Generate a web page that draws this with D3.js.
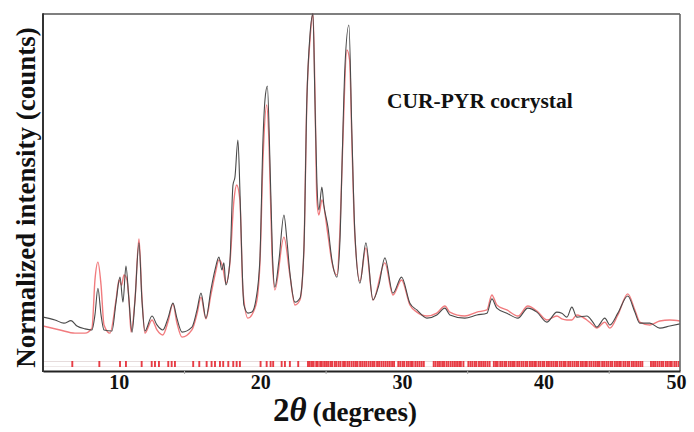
<!DOCTYPE html>
<html>
<head>
<meta charset="utf-8">
<script src="https://cdn.jsdelivr.net/npm/d3@7"></script>
<style>
  html, body { margin: 0; padding: 0; background: #fff; }
  svg { display: block; }
</style>
</head>
<body>
<svg id="chart" width="694" height="432"></svg>
<script>
// ---- data (2theta in degrees, normalized intensity 0..100) ----
const experimental = [
  [5.0,15.1],[5.85,14.3],[6.48,13.4],[6.98,14.1],[7.40,12.6],[7.97,11.8],[8.46,11.5],[8.67,15.7],
  [8.88,23.2],[9.10,15.7],[9.31,11.5],[9.87,11.2],[10.16,19.3],[10.44,26.3],[10.65,19.3],[10.86,29.4],
  [11.07,19.9],[11.29,10.9],[11.50,19.9],[11.78,35.9],[11.99,19.9],[12.20,11.2],[12.70,15.4],[13.05,12.9],
  [13.47,11.5],[13.83,14.8],[14.18,19.0],[14.46,14.8],[14.82,10.9],[15.52,12.3],[15.88,17.1],[16.16,21.8],
  [16.51,14.8],[16.86,22.7],[17.15,28.3],[17.43,31.9],[17.64,28.3],[17.78,30.3],[17.92,24.1],[18.21,31.1],
  [18.42,52.1],[18.56,54.3],[18.77,64.7],[18.91,50.7],[19.05,31.1],[19.19,18.5],[19.48,16.2],[19.76,16.5],
  [20.04,19.9],[20.32,31.1],[20.54,64.7],[20.68,75.9],[20.85,79.8],[21.03,59.1],[21.21,32.5],[21.38,23.5],
  [21.67,31.1],[22.02,43.7],[22.23,36.7],[22.44,27.5],[22.80,19.3],[23.15,20.4],[23.43,33.9],[23.64,75.9],
  [23.86,94.1],[24.07,100],[24.21,75.9],[24.35,52.7],[24.49,45.1],[24.70,51.5],[24.84,46.5],[25.13,40.3],
  [25.41,31.1],[25.76,26.3],[25.98,36.7],[26.12,57.1],[26.33,85.2],[26.61,96.9],[26.82,66.7],[27.03,38.7],
  [27.39,24.6],[27.81,35.9],[28.31,19.9],[28.73,24.1],[29.15,31.7],[29.72,21.8],[30.33,26.3],[30.92,19.0],
  [31.41,17.1],[32.12,14.8],[32.82,15.7],[33.39,17.6],[33.74,15.7],[34.80,14.8],[35.65,15.7],[36.36,16.2],
  [36.71,20.2],[37.06,17.6],[37.77,16.2],[38.55,14.8],[39.25,17.6],[39.89,16.5],[40.59,13.7],[41.30,16.5],
  [41.65,16.2],[42.01,15.1],[42.36,17.9],[42.71,15.1],[43.42,15.4],[43.84,13.7],[44.12,12.3],[44.69,14.8],
  [45.04,12.9],[45.61,16.2],[46.31,21.0],[46.81,16.5],[47.16,13.4],[47.87,13.4],[48.57,12.0],[49.28,12.6],
  [50.0,13.2]
];
const calculated = [
  [5.0,12.6],[6.2,11.5],[7.26,10.6],[7.97,10.6],[8.46,12.0],[8.67,25.5],[8.88,30.5],[9.10,24.1],
  [9.31,12.9],[9.73,10.6],[10.16,19.9],[10.37,25.5],[10.55,24.0],[10.72,26.9],[10.90,26.0],[11.07,20.5],
  [11.22,10.9],[11.50,20.0],[11.78,37.0],[11.99,20.5],[12.20,10.6],[12.70,14.3],[13.05,11.5],[13.47,10.1],
  [13.83,13.8],[14.18,18.8],[14.46,13.5],[14.82,9.5],[15.52,11.5],[15.88,16.0],[16.16,20.7],[16.51,14.6],
  [16.86,21.3],[17.15,26.9],[17.43,31.1],[17.71,28.9],[17.92,24.6],[18.21,30.5],[18.49,47.9],[18.68,52.1],
  [18.91,47.9],[19.12,22.7],[19.48,14.8],[20.04,18.5],[20.32,29.7],[20.54,59.1],[20.80,74.5],[20.96,64.7],
  [21.17,33.9],[21.38,22.7],[22.02,37.5],[22.44,26.9],[22.80,18.5],[23.15,19.9],[23.43,33.9],[23.64,75.9],
  [23.86,92.7],[24.07,100.3],[24.21,78.4],[24.35,47.9],[24.49,43.7],[24.70,47.9],[25.13,38.1],[25.41,30.5],
  [25.76,26.9],[25.98,39.5],[26.16,61.6],[26.47,89.9],[26.66,87.1],[26.82,64.4],[27.03,38.1],[27.39,25.2],
  [27.81,34.5],[28.31,19.9],[29.15,30.3],[29.72,21.3],[30.33,25.5],[30.92,18.5],[31.41,16.5],[32.12,15.4],
  [32.82,16.2],[33.39,18.2],[33.74,16.5],[34.80,15.4],[35.65,16.5],[36.36,17.1],[36.71,21.3],[37.06,18.5],
  [37.77,17.1],[38.55,15.4],[39.25,18.2],[39.89,16.8],[40.59,14.3],[41.30,15.4],[41.65,14.6],[42.01,14.3],
  [42.36,14.3],[42.71,15.7],[43.42,14.3],[43.84,12.9],[44.12,12.0],[44.69,13.7],[45.04,12.0],[45.61,15.7],
  [46.31,21.6],[46.81,17.1],[47.16,13.7],[47.87,12.9],[48.57,14.0],[49.28,14.3],[50.0,14.0]
];
const reflections = [
  7.07,8.98,10.44,10.86,11.97,12.68,12.91,13.19,13.85,14.09,14.32,15.61,16.04,16.56,16.91,17.15,17.50,
  17.73,18.09,18.44,18.68,18.91,20.37,20.80,21.08,21.26,21.86,22.09,22.44,23.03,
  23.72,23.85,24.0,24.12,24.3,24.41,24.58,24.7,24.86,25.0,25.14,25.3,25.42,25.6,25.72,25.88,26.02,26.2,
  26.33,26.5,26.64,26.8,26.95,27.1,27.22,27.4,27.55,27.7,27.84,28.0,28.15,28.3,28.42,28.6,28.74,28.9,
  29.05,29.2,29.35,29.5,29.66,29.8,30.1,30.24,30.4,30.52,30.7,30.84,31.0,31.12,31.3,31.45,31.6,31.75,31.9,
  32.6,32.74,32.9,33.04,33.2,33.33,33.5,33.64,33.8,33.95,34.1,34.25,34.4,34.52,34.7,
  35.05,35.2,35.34,35.5,35.62,35.8,35.95,36.1,36.24,36.4,36.55,
  36.85,37.0,37.12,37.3,37.44,37.6,37.72,37.9,38.05,38.2,38.32,38.5,38.64,38.8,38.94,39.1,39.22,39.4,
  39.55,39.7,39.82,40.0,40.14,40.3,40.42,40.6,40.74,40.9,41.05,41.2,41.32,41.5,41.64,41.8,41.92,42.1,
  42.24,42.4,42.55,42.7,42.82,43.0,43.14,43.3,43.42,43.6,43.74,43.9,44.05,44.2,44.32,44.5,44.64,44.8,
  44.94,45.1,45.22,45.4,45.55,45.7,45.82,46.0,46.14,46.3,46.42,46.6,46.74,46.9,47.05,47.2,47.34,
  47.95,48.1,48.24,48.4,48.55,48.7,48.82,49.0,49.14,49.3,49.42,49.6,49.74,49.9
];
const xTickValues = [10, 20, 30, 40, 50];
const xMinorTicks = [15, 25, 35, 45];
const yLabel = "Normalized intensity (counts)";
const annotation = "CUR-PYR cocrystal";

// ---- drawing ----
const svg = d3.select("#chart");
const pLeft = 43, pRight = 680, pTop = 14, pBottom = 371;
const x = d3.scaleLinear().domain([5, 50]).range([pLeft, pRight]);
const y = d3.scaleLinear().domain([0, 100]).range([pBottom, pTop]);

svg.append("rect").attr("width", 694).attr("height", 432).attr("fill", "#fff");

svg.append("defs").append("clipPath").attr("id", "clip")
  .append("rect").attr("x", pLeft).attr("y", pTop - 1).attr("width", pRight - pLeft).attr("height", pBottom - pTop + 1);

const serif = "'Liberation Serif','Times New Roman',serif";

// reflection band
svg.append("line").attr("x1", pLeft).attr("x2", pRight).attr("y1", 361.5).attr("y2", 361.5)
  .attr("stroke", "#e6dcdc").attr("stroke-width", 1);
svg.append("line").attr("x1", pLeft).attr("x2", pRight).attr("y1", 366.5).attr("y2", 366.5)
  .attr("stroke", "#eee8e8").attr("stroke-width", 1);
svg.append("g").selectAll("line").data(reflections).join("line")
  .attr("x1", d => x(d)).attr("x2", d => x(d))
  .attr("y1", 361).attr("y2", 367)
  .attr("stroke", "#e41c26").attr("stroke-width", 1.9).attr("opacity", 0.85);

const line = d3.line().x(d => x(d[0])).y(d => y(d[1])).curve(d3.curveMonotoneX);
const g = svg.append("g").attr("clip-path", "url(#clip)");
g.append("path").datum(calculated).attr("d", line)
  .attr("fill", "none").attr("stroke", "#ee5a5e").attr("stroke-width", 1.4).attr("opacity", 0.8);
g.append("path").datum(experimental).attr("d", line)
  .attr("fill", "none").attr("stroke", "#4a4a4a").attr("stroke-width", 1.1);

// frame
svg.append("line").attr("x1", pLeft).attr("x2", pRight).attr("y1", pTop).attr("y2", pTop)
  .attr("stroke", "#555").attr("stroke-width", 1.6);
svg.append("line").attr("x1", pRight).attr("x2", pRight).attr("y1", pTop).attr("y2", pBottom)
  .attr("stroke", "#666").attr("stroke-width", 1.6);

// x axis
const xAxis = d3.axisBottom(x).tickValues(xTickValues).tickSize(0).tickPadding(4)
  .tickFormat(d3.format("d"));
const ax = svg.append("g").attr("transform", `translate(0,${pBottom})`).call(xAxis);
ax.select(".domain").attr("stroke", "#222").attr("stroke-width", 2.2);
ax.selectAll("text").attr("font-family", serif).attr("font-weight", "bold")
  .attr("font-size", 20).attr("fill", "#111")
  .attr("dx", d => d === 50 ? -4 : 5);
svg.append("g").selectAll("line").data(xMinorTicks).join("line")
  .attr("x1", d => x(d)).attr("x2", d => x(d)).attr("y1", pBottom).attr("y2", pBottom + 3)
  .attr("stroke", "#aaa").attr("stroke-width", 1);

// left axis line
svg.append("line").attr("x1", pLeft).attr("x2", pLeft).attr("y1", pTop - 0.8).attr("y2", pBottom + 1)
  .attr("stroke", "#333").attr("stroke-width", 2);

// y label
svg.append("text")
  .attr("transform", `translate(35,${(pTop + pBottom) / 2 + 5}) rotate(-90)`)
  .attr("text-anchor", "middle")
  .attr("font-family", serif).attr("font-weight", "bold").attr("font-size", 27)
  .attr("fill", "#111").text(yLabel);

// x label
const xl = svg.append("text").attr("x", 345).attr("y", 421).attr("text-anchor", "middle")
  .attr("font-family", serif).attr("font-weight", "bold").attr("fill", "#111");
xl.append("tspan").attr("font-size", 33).text("2");
xl.append("tspan").attr("font-size", 33).attr("font-style", "italic").text("θ");
xl.append("tspan").attr("font-size", 27).attr("dx", 6).text("(degrees)");

// annotation
svg.append("text").attr("x", 387).attr("y", 108)
  .attr("font-family", serif).attr("font-weight", "bold").attr("font-size", 21.5)
  .attr("fill", "#111").text(annotation);
</script>
</body>
</html>
